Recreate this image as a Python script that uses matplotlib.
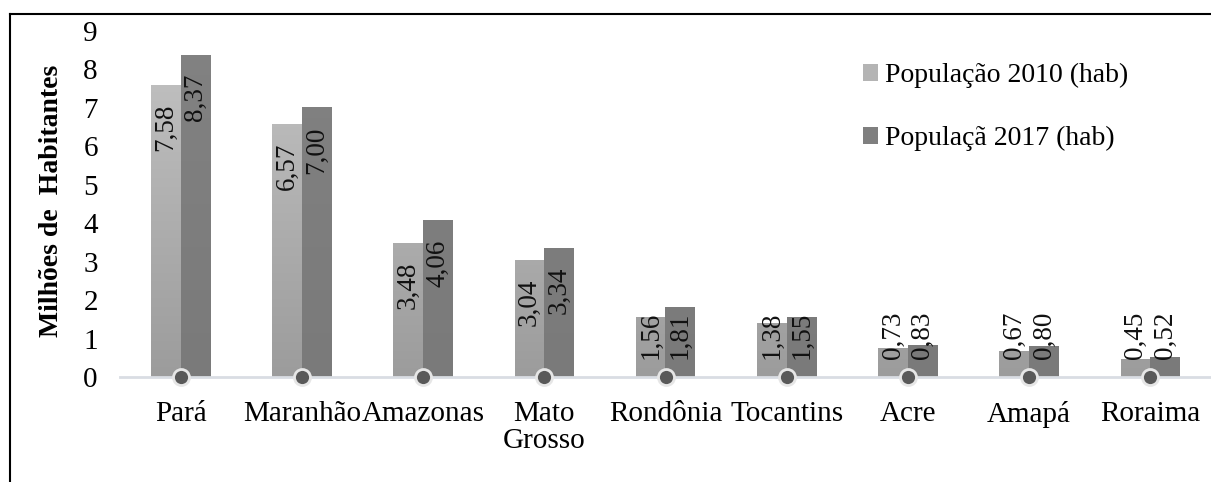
import matplotlib.pyplot as plt
import numpy as np
from matplotlib.colors import to_rgb
from matplotlib.lines import Line2D
from matplotlib.patches import Rectangle

plt.rcParams["font.family"] = "Liberation Serif"

states = ["Pará", "Maranhão", "Amazonas", "Mato\nGrosso", "Rondônia",
          "Tocantins", "Acre", "Amapá", "Roraima"]
pop_2010 = [7.58, 6.57, 3.48, 3.04, 1.56, 1.38, 0.73, 0.67, 0.45]
pop_2017 = [8.37, 7.00, 4.06, 3.34, 1.81, 1.55, 0.83, 0.80, 0.52]
label_2010 = "População 2010 (hab)"
label_2017 = "Populaçã 2017 (hab)"

W, H = 1211, 482
fig = plt.figure(figsize=(W / 100, H / 100), dpi=100)
ax = fig.add_axes([120 / W, 1 - 377 / H, 1 - 120 / W, (377 - 31) / H])

x = np.arange(len(states))
bw = 0.245


def gradient_bars(xs, heights, top_col, bot_col):
    # plain bars for geometry, then a vertical gradient image on each
    top = np.array(to_rgb(top_col))
    bot = np.array(to_rgb(bot_col))
    bars = ax.bar(xs, heights, bw, color="none", linewidth=0)
    for b in bars:
        x0, w, h = b.get_x(), b.get_width(), b.get_height()
        t = np.linspace(1 - h / 9, 1, 128)[:, None, None]
        img = top * (1 - t) + bot * t
        ax.imshow(img, extent=(x0, x0 + w, 0, h), aspect="auto",
                  origin="upper", zorder=2, interpolation="bilinear")
    return bars


bars1 = gradient_bars(x - bw / 2, pop_2010, "#c4c4c4", "#9c9c9c")
bars2 = gradient_bars(x + bw / 2, pop_2017, "#828282", "#7a7a7a")

ax.set_xlim(-0.5, len(states) - 0.5)
ax.set_ylim(0, 9)

# value labels, rotated, inside end (kept clear of the axis for short bars)
px = 9 / 346
for bars, vals in [(bars1, pop_2010), (bars2, pop_2017)]:
    for b, v in zip(bars, vals):
        yc = max(v - 42 * px, 42 * px)
        ax.text(b.get_x() + b.get_width() / 2, yc, f"{v:.2f}".replace(".", ","),
                rotation=90, ha="center", va="center", fontsize=19.5,
                color="#111111", zorder=4)

# axis line and circle markers
ax.axhline(0, color="#d9dde3", lw=2, zorder=3, clip_on=False)
ax.plot(x, np.zeros(len(x)), "o", ms=11.5, mfc="#595959", mec="#e6e6e6",
        mew=2, zorder=5, clip_on=False)

for s in ax.spines.values():
    s.set_visible(False)
ax.set_yticks(range(10))
ax.set_xticks(x)
ax.set_xticklabels(states, fontsize=21, linespacing=1.05)
ax.tick_params(axis="x", length=0, pad=17)
ax.tick_params(axis="y", length=0, pad=16, labelsize=21)
ax.set_ylabel("Milhões de  Habitantes", fontsize=20, fontweight="bold",
              va="center")
ax.yaxis.set_label_coords((52 - 120) / (W - 120), 0.509)

h1 = Rectangle((0, 0), 1, 1, fc="#b4b4b4", ec="none")
h2 = Rectangle((0, 0), 1, 1, fc="#7f7f7f", ec="none")
fig.legend([h1, h2], [label_2010, label_2017], loc="upper left",
           bbox_to_anchor=(863 / W, 1 - 63 / H), frameon=False, fontsize=20,
           handlelength=0.55, handleheight=0.55, handletextpad=0.25,
           labelspacing=1.36, borderaxespad=0, borderpad=0)

# figure frame (top and left only)
fig.add_artist(Line2D([10 / W, 1], [1 - 14 / H, 1 - 14 / H], color="black",
                      lw=1.5, transform=fig.transFigure))
fig.add_artist(Line2D([10 / W, 10 / W], [0, 1 - 14 / H], color="black",
                      lw=1.5, transform=fig.transFigure))

fig.savefig("out.png", dpi=100)
